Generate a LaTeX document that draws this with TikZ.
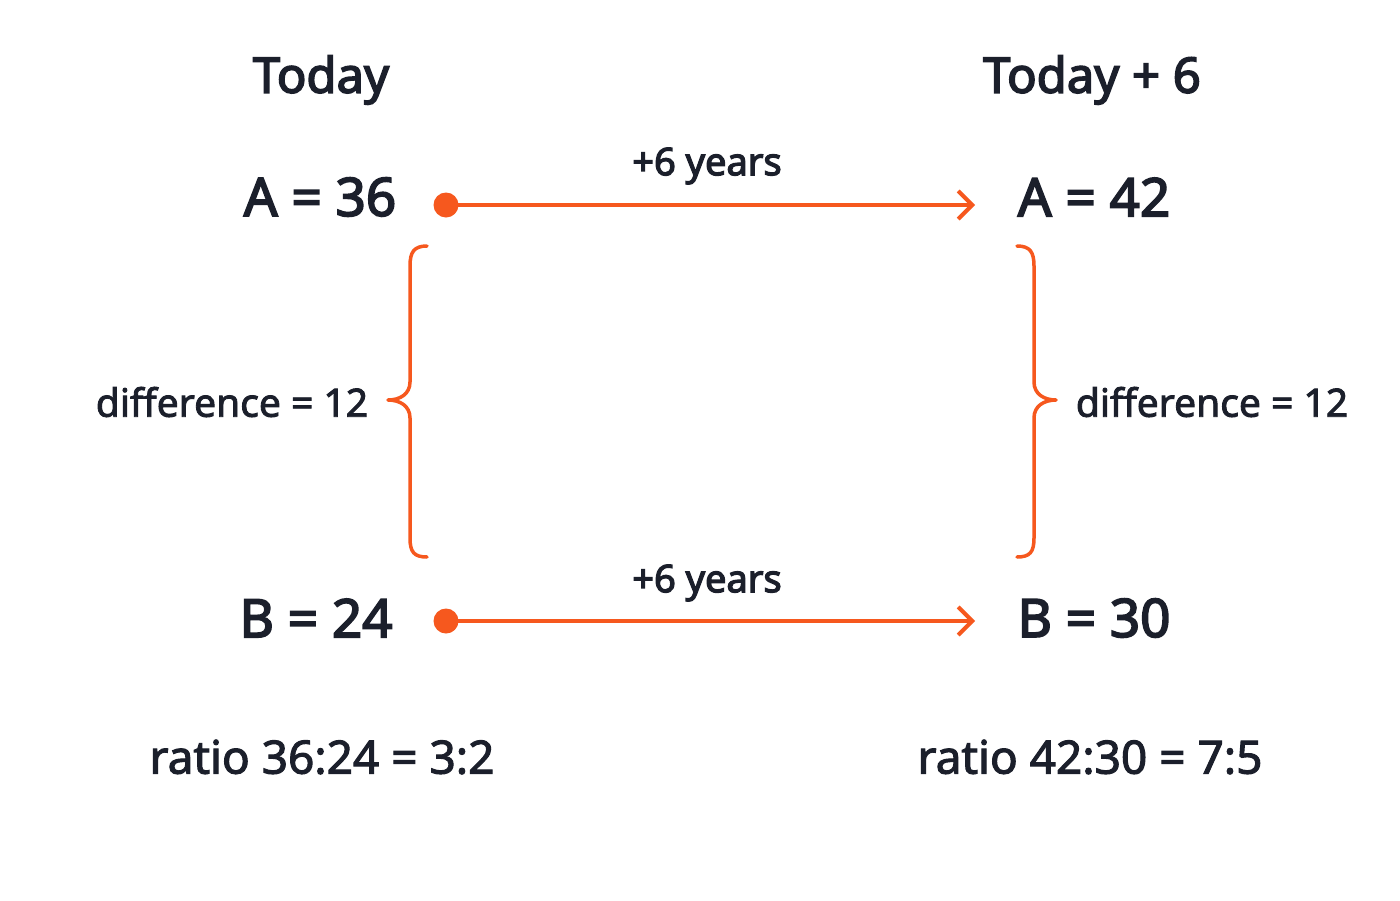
\documentclass[tikz,border=0pt]{standalone}
\usepackage{fontspec}
\setmainfont{Noto Sans}
\newfontfamily\fsemi{Noto Sans}[FakeBold=3.2]
\newfontfamily\fmed{Noto Sans}[FakeBold=2.2]
\usetikzlibrary{arrows.meta}
\definecolor{ink}{RGB}{27,31,43}
\definecolor{org}{RGB}{246,88,30}
\tikzset{
  txt/.style={text=ink, inner sep=0pt, anchor=center},
  head/.style={txt, font=\fsemi\fontsize{49}{52}\selectfont},
  val/.style={txt, font=\fsemi\fontsize{53}{56}\selectfont},
  yrs/.style={txt, font=\fsemi\fontsize{38}{42}\selectfont},
  diff/.style={txt, font=\fmed\fontsize{39}{42}\selectfont},
  rat/.style={txt, font=\fmed\fontsize{46}{50}\selectfont},
  dot/.style={circle, fill=org, inner sep=0pt, minimum size=25pt},
  arr/.style={draw=org, line width=4pt, -{Straight Barb[length=14pt, width=28pt, line width=4pt]}},
  brc/.style={draw=org, line width=3.5pt, line cap=round, line join=round}
}
\begin{document}
\begin{tikzpicture}[x=1pt,y=-1pt]
\useasboundingbox[fill=white] (0,0) rectangle (1400,900);
\node[head] (h1) at (321,80) {Today};
\node[head] (h2) at (1092,80) {Today + 6};
\node[val] (a1) at (320,197) {A = 36};
\node[val] (a2) at (1094,197) {A = 42};
\node[val] (b1) at (316,618) {B = 24};
\node[val] (b2) at (1094,618) {B = 30};
\node[dot] (d1) at (446,205) {};
\node[dot] (d2) at (446,621) {};
\coordinate (t1) at (975,205);
\coordinate (t2) at (975,621);
\draw[arr] (d1.center) -- (t1);
\draw[arr] (d2.center) -- (t2);
\node[yrs] (y1) at (707,166) {+6 years};
\node[yrs] (y2) at (707,583) {+6 years};
% left brace
\coordinate (lb) at (388,400);
\draw[brc] (427,246) .. controls (414,246) and (410,252) .. (410,266)
  -- (410,382) .. controls (410,394) and (400,400) .. (lb)
  .. controls (400,400) and (410,406) .. (410,418)
  -- (410,538) .. controls (410,552) and (414,557) .. (427,557);
% right brace
\coordinate (rb) at (1056,400);
\draw[brc] (1017,246) .. controls (1030,246) and (1034,252) .. (1034,266)
  -- (1034,382) .. controls (1034,394) and (1044,400) .. (rb)
  .. controls (1044,400) and (1034,406) .. (1034,418)
  -- (1034,538) .. controls (1034,552) and (1030,557) .. (1017,557);
\node[diff] (df1) at (232,402) {difference = 12};
\node[diff] (df2) at (1212,402) {difference = 12};
\node[rat] (r1) at (322,757) {ratio 36:24 = 3:2};
\node[rat] (r2) at (1090,757) {ratio 42:30 = 7:5};
\end{tikzpicture}
\end{document}
